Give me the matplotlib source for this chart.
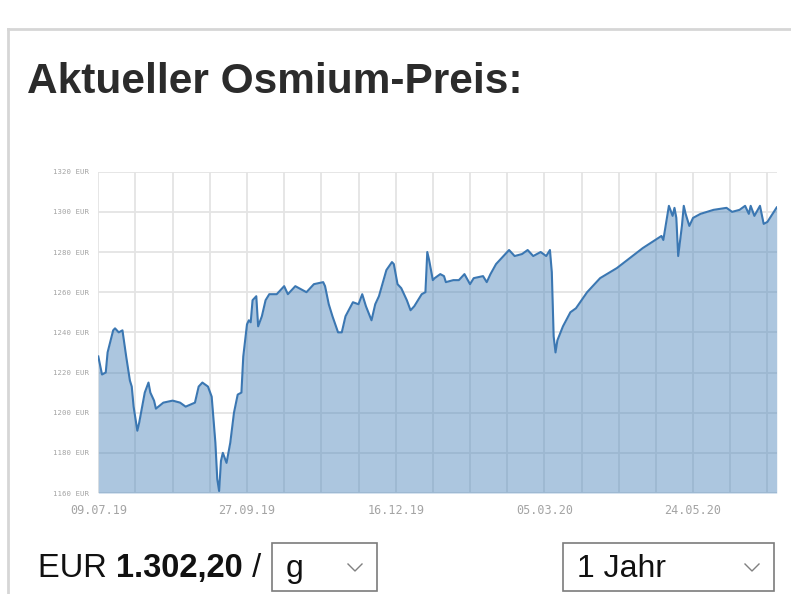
# -*- coding: utf-8 -*-
"""
Osmium price widget: one year of daily prices as a filled area chart
"""
import numpy
from matplotlib import pyplot as plt
from matplotlib.patches import Rectangle

START = numpy.datetime64('2019-07-09')

day_offsets = [0, 2, 4, 5, 8, 9, 11, 13, 15, 17, 18, 19, 21, 22, 25, 27, 28,
               30, 31, 35, 40, 44, 47, 52, 54, 56, 59, 61, 63, 64, 65, 66,
               67, 69, 71, 73, 75, 77, 78, 80, 81, 82, 83, 85, 86, 88, 90,
               92, 96, 99, 100, 102, 106, 108, 112, 116, 121, 122, 124, 126,
               129, 131, 133, 137, 140, 142, 144, 147, 149, 151, 155, 158,
               159, 161, 163, 166, 168, 170, 174, 176, 177, 178, 180, 181,
               184, 186, 187, 191, 194, 197, 200, 202, 207, 209, 211, 214,
               218, 221, 224, 228, 231, 234, 238, 241, 243, 244, 245, 246,
               247, 250, 254, 257, 263, 270, 279, 286, 293, 298, 303, 304,
               307, 309, 310, 311, 312, 314, 315, 316, 318, 320, 324, 331,
               338, 341, 345, 348, 350, 351, 353, 356, 358, 360, 365]
prices = [1228, 1219, 1220, 1230, 1241, 1242, 1240, 1241, 1228, 1216, 1213,
          1203, 1191, 1195, 1210, 1215, 1210, 1206, 1202, 1205, 1206, 1205,
          1203, 1205, 1213, 1215, 1213, 1208, 1185, 1167, 1161, 1176, 1180,
          1175, 1185, 1200, 1209, 1210, 1228, 1244, 1246, 1245, 1256, 1258,
          1243, 1248, 1256, 1259, 1259, 1262, 1263, 1259, 1263, 1262, 1260,
          1264, 1265, 1263, 1254, 1248, 1240, 1240, 1248, 1255, 1254, 1259,
          1253, 1246, 1254, 1258, 1271, 1275, 1274, 1264, 1262, 1256, 1251,
          1253, 1259, 1260, 1280, 1276, 1266, 1267, 1269, 1268, 1265, 1266,
          1266, 1269, 1264, 1267, 1268, 1265, 1269, 1274, 1278, 1281, 1278,
          1279, 1281, 1278, 1280, 1278, 1281, 1270, 1238, 1230, 1236, 1243,
          1250, 1252, 1260, 1267, 1272, 1277, 1282, 1285, 1288, 1286, 1303,
          1298, 1302, 1297, 1278, 1293, 1303, 1299, 1293, 1297, 1299, 1301,
          1302, 1300, 1301, 1303, 1299, 1303, 1298, 1303, 1294, 1295, 1302.2]

y_ticks = [1160, 1180, 1200, 1220, 1240, 1260, 1280, 1300, 1320]
grid_step_days = 20
label_every = 4

title = 'Aktueller Osmium-Preis:'
price_text = '1.302,20'
unit_choice = 'g'
range_choice = '1 Jahr'

W, H = 791, 594
LINE = '#3b77b2'
FILL = '#4a84bb'
GRID = '#e4e4e4'
BORDER = '#d6d6d6'
TEXT = '#2b2b2b'
FONT = 'Liberation Sans'

dates = START + numpy.array(day_offsets).astype('timedelta64[D]')
end = START + numpy.timedelta64(max(day_offsets), 'D')

fig = plt.figure(figsize=(W / 100., H / 100.), dpi=100)
fig.patch.set_facecolor('white')

# chart area in pixel coords: x 98..777, y 172..493
ax = fig.add_axes([98.3 / W, 1 - 493. / H, (776.7 - 98.3) / W, (493. - 171.7) / H])
ax.set_facecolor('white')
ax.fill_between(dates, prices, y_ticks[0], color=FILL, alpha=0.46, linewidth=0, zorder=2)
ax.plot(dates, prices, color=LINE, linewidth=1.5, zorder=3)
ax.set_xlim(START, end)
ax.set_ylim(y_ticks[0], y_ticks[-1])

x_ticks = START + numpy.arange(0, max(day_offsets), grid_step_days).astype('timedelta64[D]')
x_labels = []
for n, d in enumerate(x_ticks):
    if n % label_every == 0:
        x_labels.append(d.astype(object).strftime('%d.%m.%y'))
    else:
        x_labels.append('')
ax.set_xticks(x_ticks)
ax.set_xticklabels(x_labels, fontsize=8.5, family='DejaVu Sans Mono', color='#a4a4a4')
ax.set_yticks(y_ticks)
ax.set_yticklabels(['{0} EUR'.format(v) for v in y_ticks], fontsize=5.3,
                   family='DejaVu Sans Mono', color='#a4a4a4')
ax.tick_params(length=0, pad=7)
ax.tick_params(axis='x', pad=8)
ax.grid(True, color=GRID, linewidth=1.3, zorder=1)
ax.set_axisbelow(True)
for s in ax.spines.values():
    s.set_visible(False)

# widget decorations in pixel coords
deco = fig.add_axes([0, 0, 1, 1], zorder=5)
deco.set_xlim(0, W)
deco.set_ylim(H, 0)
deco.axis('off')
deco.patch.set_alpha(0)

deco.plot([8, W], [29, 29], color=BORDER, linewidth=2.0)
deco.plot([8, 8], [29, H], color=BORDER, linewidth=2.0)

deco.text(27, 93, title, fontsize=30.5, fontweight='bold', family=FONT,
          color=TEXT, va='baseline', ha='left')

deco.text(38, 577, 'EUR ', fontsize=23.5, family=FONT, color='#111111', va='baseline')
deco.text(116, 577, price_text, fontsize=23.5, fontweight='bold', family=FONT,
          color='#111111', va='baseline')
deco.text(243, 577, ' /', fontsize=23.5, family=FONT, color='#111111', va='baseline')

for x0, x1, label in [(272, 377, unit_choice), (563, 774, range_choice)]:
    deco.add_patch(Rectangle((x0, 543), x1 - x0, 48, fill=False,
                             edgecolor='#7c7c7c', linewidth=1.2))
    deco.text(x0 + 14, 577, label, fontsize=23, family=FONT, color='#111111', va='baseline')
    cx = x1 - 22
    deco.plot([cx - 7, cx, cx + 7], [564, 571, 564], color='#808080', linewidth=1.0)

fig.savefig('out.png', dpi=100)
